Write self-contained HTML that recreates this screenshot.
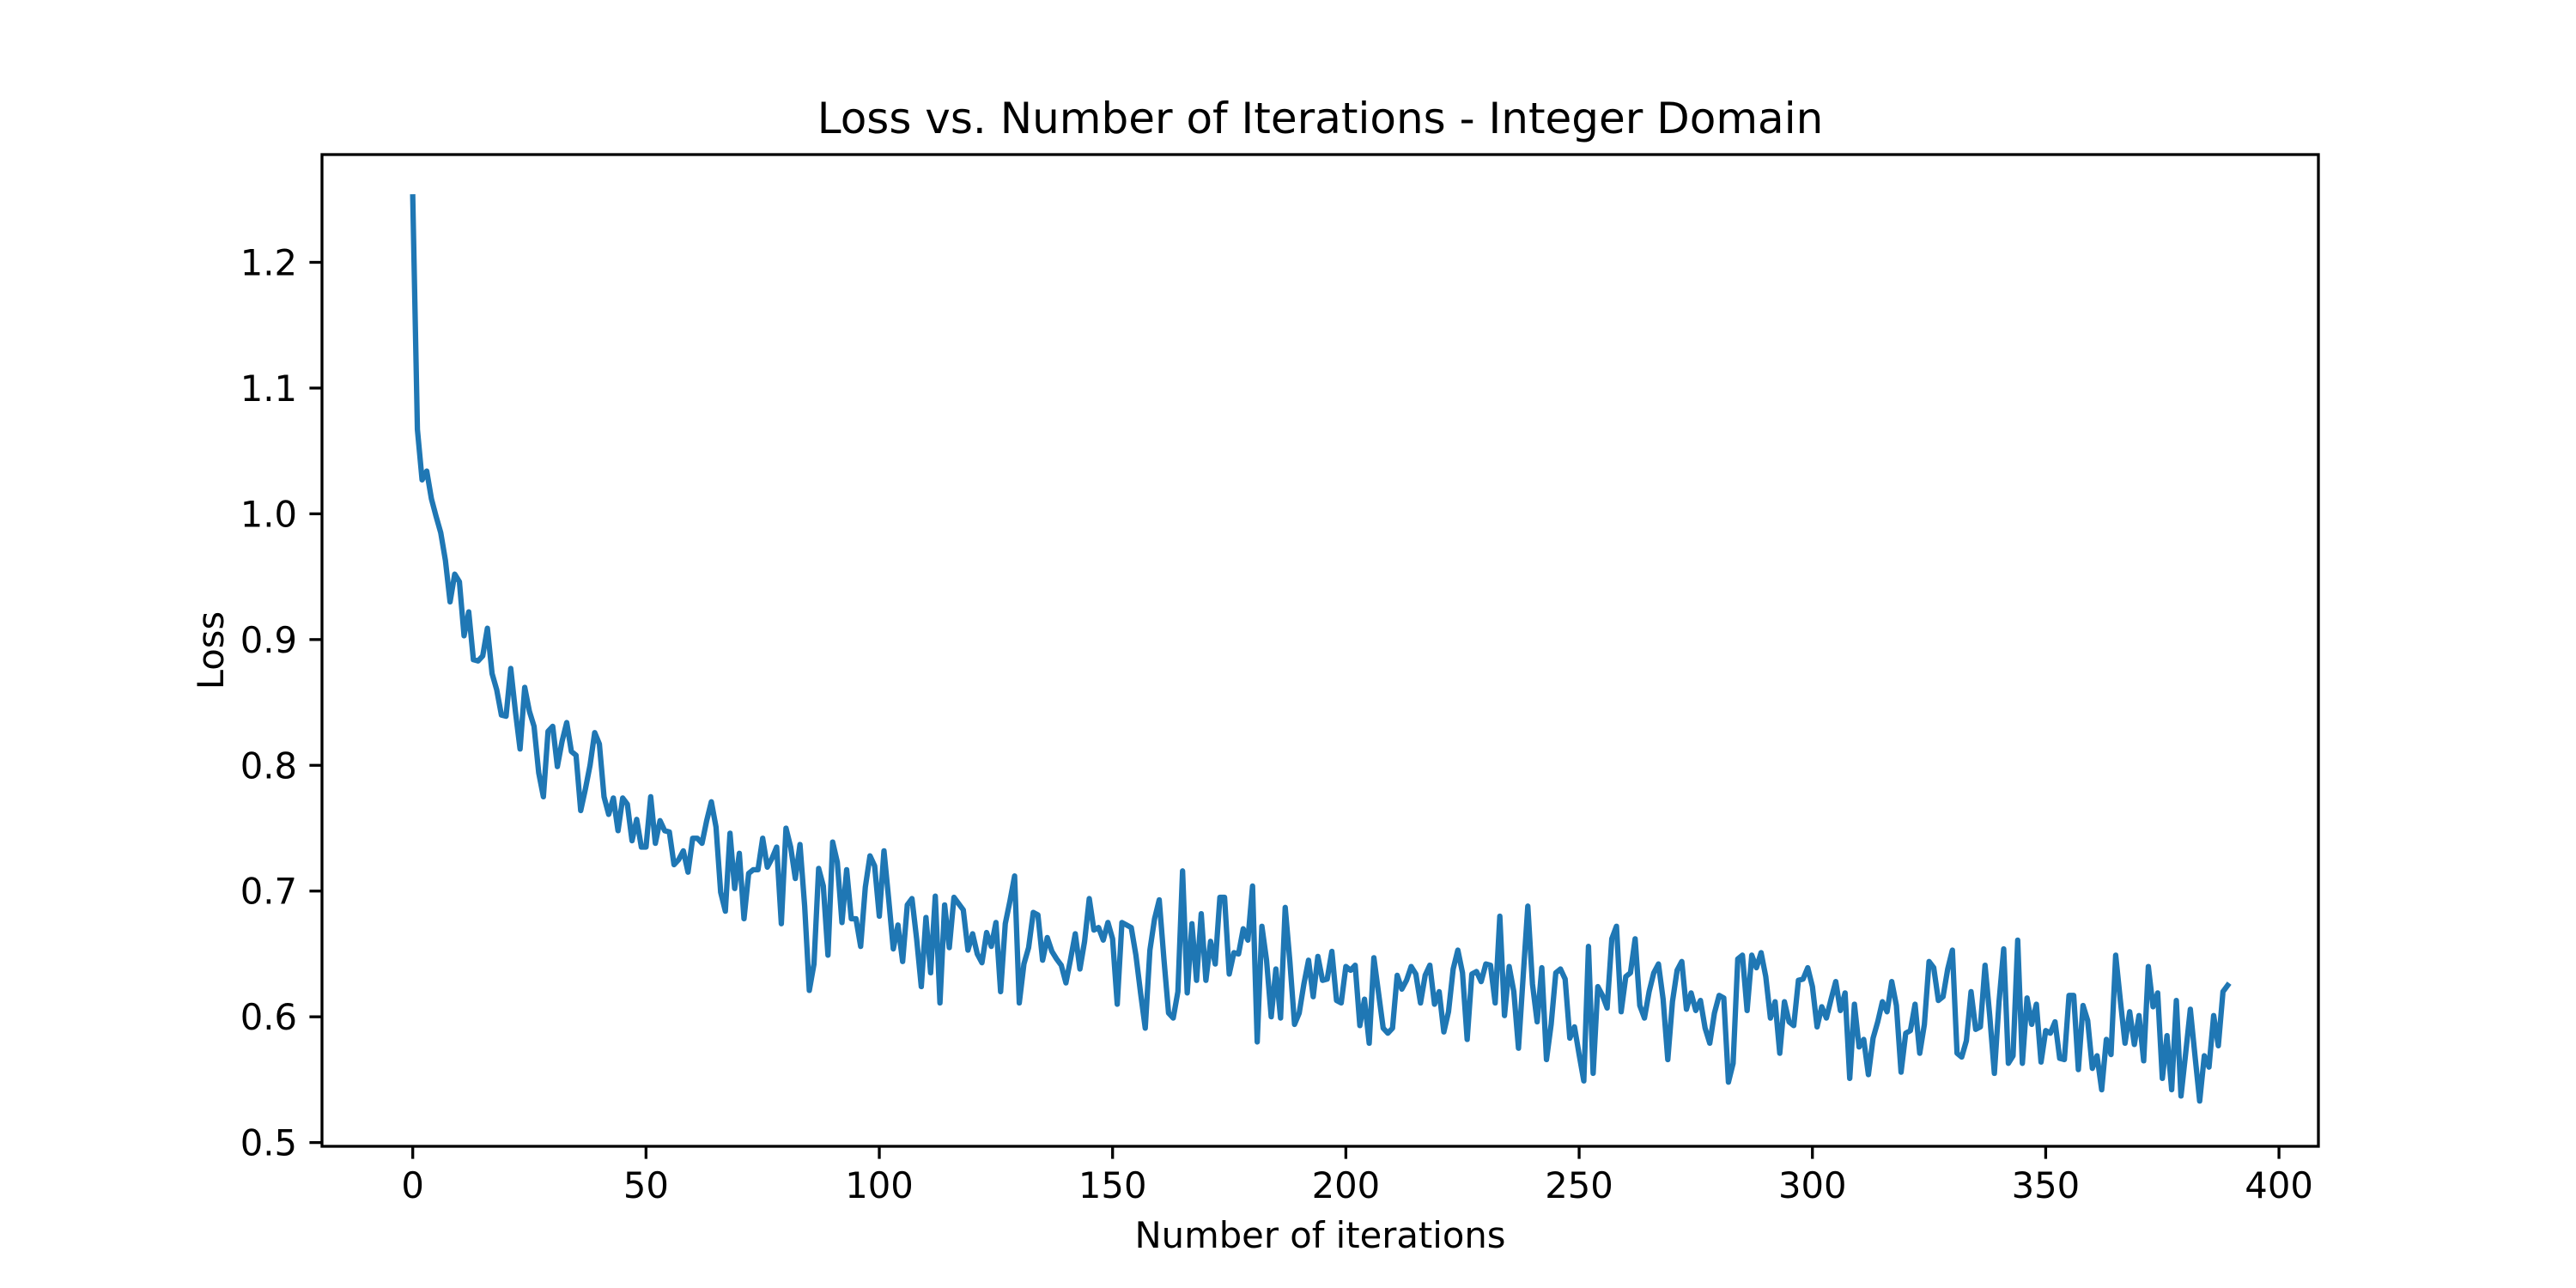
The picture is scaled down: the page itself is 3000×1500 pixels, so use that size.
<!DOCTYPE html>
<html><head><meta charset="utf-8"><style>
html,body{margin:0;padding:0;background:#fff;}
svg{display:block;font-family:"DejaVu Sans","Liberation Sans",sans-serif;}
</style></head><body>
<svg id="chart" width="3000" height="1500" viewBox="0 0 3000 1500" xmlns="http://www.w3.org/2000/svg">
<rect x="0" y="0" width="3000" height="1500" fill="#fff"/>
<text x="1537.5" y="155" text-anchor="middle" font-size="50" fill="#000">Loss vs. Number of Iterations - Integer Domain</text>
<g id="ticks"></g>
<path id="series" fill="none" stroke="#1f77b4" stroke-width="6.25" stroke-linejoin="round" stroke-linecap="square"/>
<rect x="375" y="180" width="2325" height="1155" fill="none" stroke="#000" stroke-width="3.3"/>
<text x="1537.5" y="1453" text-anchor="middle" font-size="41.7" fill="#000">Number of iterations</text>
<text x="0" y="0" transform="translate(260,757.5) rotate(-90)" text-anchor="middle" font-size="41.7" fill="#000">Loss</text>
</svg>
<script>
const losses = [1.252,1.067,1.027,1.034,1.012,0.998,0.985,0.963,0.930,0.952,0.946,0.903,0.922,0.884,0.883,0.887,0.909,0.873,0.860,0.840,0.839,0.877,0.843,0.813,0.862,0.843,0.831,0.794,0.775,0.827,0.831,0.799,0.819,0.834,0.811,0.808,0.764,0.781,0.800,0.826,
0.817,0.775,0.761,0.774,0.748,0.774,0.769,0.740,0.757,0.735,0.735,0.775,0.738,0.756,0.748,0.747,0.721,0.725,0.732,0.715,0.742,0.742,0.738,0.756,0.771,0.751,0.699,0.684,0.746,0.702,
0.730,0.678,0.714,0.717,0.717,0.742,0.719,0.726,0.735,0.674,0.750,0.735,0.710,0.737,0.688,0.621,0.642,0.718,0.704,0.649,0.739,0.723,0.675,0.717,0.678,0.678,0.656,0.703,0.728,0.720,
0.680,0.732,0.694,0.654,0.673,0.644,0.689,0.694,0.662,0.624,0.679,0.635,0.696,0.611,0.689,0.655,0.695,0.690,0.685,0.653,0.666,0.650,0.643,0.667,0.656,0.675,0.620,0.674,0.692,0.712,
0.611,0.642,0.655,0.683,0.681,0.645,0.663,0.652,0.646,0.641,0.627,0.646,0.666,0.638,0.660,0.694,0.669,0.671,0.661,0.675,0.662,0.610,0.675,0.673,0.671,0.649,0.619,0.591,0.653,0.678,
0.693,0.646,0.603,0.599,0.620,0.716,0.619,0.674,0.629,0.682,0.629,0.660,0.642,0.695,0.695,0.634,0.651,0.650,0.670,0.661,0.704,0.580,0.672,0.645,0.600,0.638,0.599,0.687,0.644,0.594,
0.603,0.626,0.645,0.616,0.648,0.629,0.630,0.652,0.613,0.611,0.640,0.637,0.641,0.593,0.614,0.579,0.647,0.619,0.591,0.587,0.591,0.633,0.622,0.629,0.640,0.634,0.611,0.633,0.641,0.610,
0.620,0.588,0.604,0.638,0.653,0.635,0.582,0.634,0.636,0.628,0.642,0.641,0.611,0.680,0.601,0.640,0.620,0.575,0.632,0.688,0.626,0.596,0.639,0.566,0.594,0.635,0.638,0.630,0.583,0.592,
0.570,0.549,0.656,0.555,0.624,0.617,0.607,0.662,0.672,0.604,0.632,0.635,0.662,0.609,0.599,0.620,0.635,0.642,0.614,0.566,0.612,0.637,0.644,0.606,0.619,0.605,0.613,0.591,0.579,0.603,
0.617,0.615,0.548,0.563,0.646,0.649,0.605,0.649,0.639,0.651,0.632,0.599,0.612,0.571,0.612,0.596,0.593,0.629,0.630,0.639,0.624,0.592,0.608,0.599,0.614,0.628,0.605,0.619,0.551,0.610,
0.576,0.582,0.554,0.583,0.596,0.612,0.604,0.628,0.609,0.556,0.587,0.589,0.610,0.571,0.594,0.644,0.639,0.613,0.616,0.638,0.653,0.571,0.568,0.581,0.620,0.590,0.592,0.641,0.601,0.555,
0.612,0.654,0.563,0.569,0.661,0.563,0.615,0.594,0.610,0.564,0.589,0.587,0.596,0.567,0.566,0.617,0.617,0.558,0.609,0.597,0.559,0.569,0.542,0.582,0.570,0.649,0.613,0.579,0.604,0.578,
0.601,0.565,0.640,0.608,0.619,0.551,0.585,0.542,0.613,0.537,0.571,0.606,0.569,0.533,0.569,0.560,0.601,0.577,0.620,0.625];
const xTicks = [0,50,100,150,200,250,300,350,400];
const yTicks = [0.5,0.6,0.7,0.8,0.9,1.0,1.1,1.2];
const yTickLabels = ["0.5","0.6","0.7","0.8","0.9","1.0","1.1","1.2"];

const L=375,R=2700,T=180,B=1335;
const n=losses.length;
const xMin=-(n-1)*0.05, xMax=(n-1)*1.05;
const yMin=0.497, yMax=1.2857;
function xs(v){return L+(v-xMin)/(xMax-xMin)*(R-L);}
function ys(v){return B-(v-yMin)/(yMax-yMin)*(B-T);}
const NS="http://www.w3.org/2000/svg";
let d="";
losses.forEach((v,i)=>{d+=(i?"L":"M")+xs(i).toFixed(2)+","+ys(v).toFixed(2);});
document.getElementById("series").setAttribute("d",d);
const g=document.getElementById("ticks");
xTicks.forEach(t=>{
  const ln=document.createElementNS(NS,"line");
  ln.setAttribute("x1",xs(t));ln.setAttribute("x2",xs(t));ln.setAttribute("y1",B);ln.setAttribute("y2",B+14.6);
  ln.setAttribute("stroke","#000");ln.setAttribute("stroke-width","3.3");
  
  
  g.appendChild(ln);
  const tx=document.createElementNS(NS,"text");
  tx.setAttribute("x",xs(t));tx.setAttribute("y",B+60);tx.setAttribute("text-anchor","middle");tx.setAttribute("font-size","41.7");
  tx.textContent=String(t);
  
  
  g.appendChild(tx);
});
yTicks.forEach((t,i)=>{
  const ln=document.createElementNS(NS,"line");
  ln.setAttribute("x1",L-14.6);ln.setAttribute("x2",L);ln.setAttribute("y1",ys(t));ln.setAttribute("y2",ys(t));
  ln.setAttribute("stroke","#000");ln.setAttribute("stroke-width","3.3");
  
  
  g.appendChild(ln);
  const tx=document.createElementNS(NS,"text");
  tx.setAttribute("x",L-29);tx.setAttribute("y",ys(t)+15);tx.setAttribute("text-anchor","end");tx.setAttribute("font-size","41.7");
  tx.textContent=yTickLabels[i];
  
  
  g.appendChild(tx);
});
</script>
</body></html>
